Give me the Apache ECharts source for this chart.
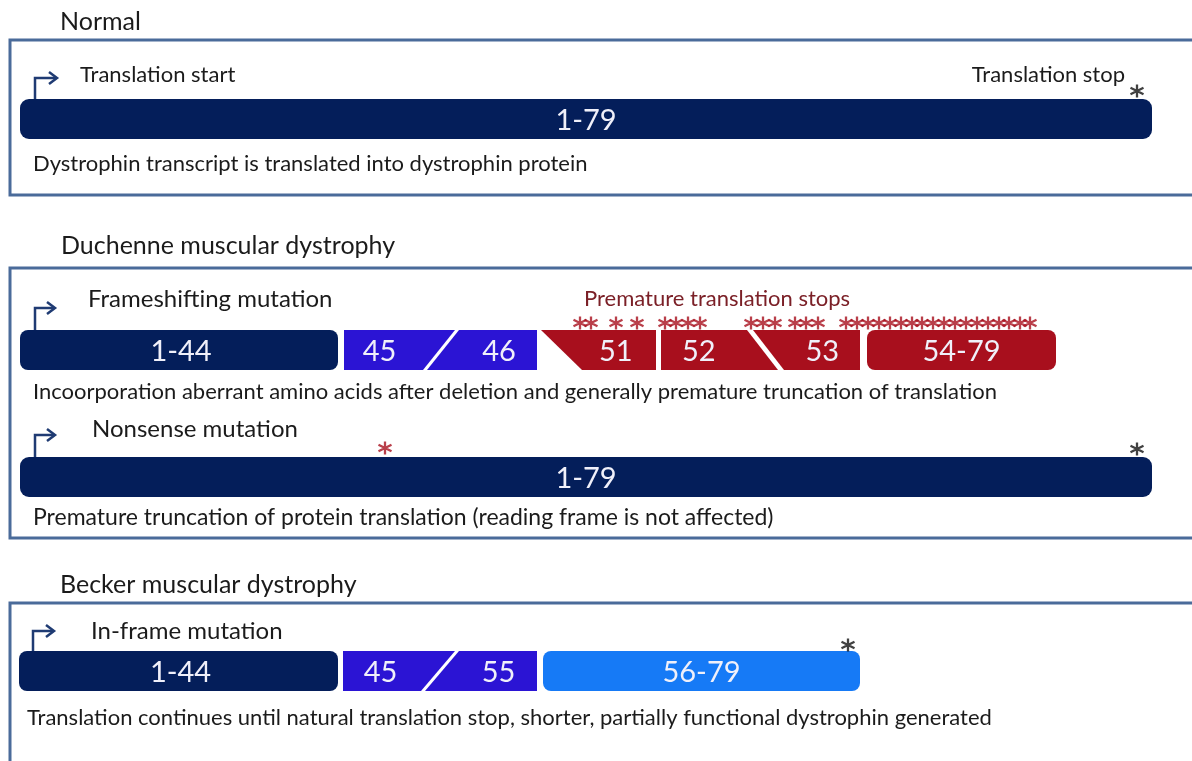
<!DOCTYPE html>
<html><head><meta charset="utf-8">
<script src="https://cdn.jsdelivr.net/npm/echarts@6/dist/echarts.min.js"></script>
<style>html,body{margin:0;padding:0;background:#fff}#c{width:1192px;height:761px}</style>
</head><body><div id="c"></div>
<script>
const FONT = 'Lato, "Noto Sans", sans-serif';
const COLORS = { navy:'#041e5a', purple:'#2b14d4', red:'#a80f1d', sky:'#167af6', frame:'#4a6b9a', text:'#1b1b1b', arrow:'#1f3b73', darkred:'#7b2027', star:'#a80f1d', black:'#111111' };

// Panel frames [x0, y0, x1, y1]
const frames = [[10,40,1215,195],[10,268,1215,538],[10,603,1215,790]];

// Transcript rows (top of bar) and bar height
const rowTop = [99, 330, 457, 651];
const BAR_H = 40;

// Exon segment labels
const segLabels = ["1-79","1-44","45","46","51","52","53","54-79","1-79","1-44","45","55","56-79"];
// Segment geometry: [row, xTopLeft, xBottomLeft, xTopRight, xBottomRight, colorKey, radius, labelDx]
const segGeom = [
  [0, 20, 20, 1152, 1152, 'navy', 9, 0],
  [1, 20, 20, 338, 338, 'navy', 8, 2],
  [1, 344, 344, 455, 423, 'purple', 2, -12],
  [1, 459, 427, 537, 537, 'purple', 2, 9],
  [1, 541, 582, 656, 656, 'red', 0, 7],
  [1, 661, 661, 747, 778, 'red', 0, -13],
  [1, 753, 784, 860, 860, 'red', 0, 8],
  [1, 867, 867, 1056, 1056, 'red', 8, 0],
  [2, 20, 20, 1152, 1152, 'navy', 9, 0],
  [3, 19, 19, 338, 338, 'navy', 8, 2],
  [3, 343, 343, 455, 421, 'purple', 2, -10],
  [3, 459, 425, 537, 537, 'purple', 2, 9],
  [3, 543, 543, 860, 860, 'sky', 8, 0]
];

// Translation-start arrows: [x, yBottom, yTop, xTip]
const arrows = [[35, 99, 78, 57],[35, 330, 308, 55],[35, 457, 435, 55],[33, 651, 631, 54]];

// Stop codons (asterisks)
const stopX = [580, 591, 616, 637, 665, 676, 688, 700, 751, 763, 775, 795, 806, 818, 846, 857, 868, 879, 890, 901, 912, 922, 933, 944, 955, 966, 977, 988, 999, 1009, 1020, 1030, 385, 1137, 1137, 848];
const stopY = [323,323,323,323,323,323,323,323,323,323,323,323,323,323,323,323,323,323,323,323,323,323,323,323,323,323,323,323,323,323,323,323, 448, 91, 449, 645];
const stopColor = ['star','star','star','star','star','star','star','star','star','star','star','star','star','star','star','star','star','star','star','star','star','star','star','star','star','star','star','star','star','star','star','star','star','black','black','black'];

// Text annotations
const texts = ["Normal","Translation start","Translation stop","Dystrophin transcript is translated into dystrophin protein",
  "Duchenne muscular dystrophy","Frameshifting mutation","Premature translation stops",
  "Incoorporation aberrant amino acids after deletion and generally premature truncation of translation",
  "Nonsense mutation","Premature truncation of protein translation (reading frame is not affected)",
  "Becker muscular dystrophy","In-frame mutation",
  "Translation continues until natural translation stop, shorter, partially functional dystrophin generated"];
const textX = [60, 80, 1125, 33, 61, 88, 584, 33, 92, 33, 60, 91, 27];
const textY = [22, 75, 75, 164, 246, 299, 299, 392, 429, 518, 585, 631, 718];
const textSize = [25, 22, 22, 22, 25, 24, 22, 22, 24, 23, 25, 24, 22];
const textColor = ['text','text','text','text','text','text','darkred','text','text','text','text','text','text'];
const textAlign = ['left','left','right','left','left','left','left','left','left','left','left','left','left'];

const chart = echarts.init(document.getElementById('c'), null, {renderer:'canvas'});
const option = {
  animation: false,
  backgroundColor: '#ffffff',
  grid: {left:0, right:0, top:0, bottom:0},
  xAxis: {type:'value', min:0, max:1192, show:false},
  yAxis: {type:'value', min:0, max:761, inverse:true, show:false},
  series: [
    { type:'custom', clip:false, silent:true,
      data: frames.map(f => [f[0], f[1]]),
      renderItem(params, api){
        const f = frames[params.dataIndex];
        const a = api.coord([f[0], f[1]]), b = api.coord([f[2], f[3]]);
        return {type:'rect', shape:{x:a[0], y:a[1], width:b[0]-a[0], height:b[1]-a[1]},
          style:{fill:'none', stroke:COLORS.frame, lineWidth:3}};
      }
    },
    { type:'custom', clip:false, silent:true,
      data: segGeom.map(s => [s[1], rowTop[s[0]]]),
      renderItem(params, api){
        const s = segGeom[params.dataIndex];
        const top = rowTop[s[0]], bot = top + BAR_H;
        const tl = api.coord([s[1], top]), bl = api.coord([s[2], bot]), tr = api.coord([s[3], top]), br = api.coord([s[4], bot]);
        const fill = COLORS[s[5]];
        let shape;
        if (s[1] === s[2] && s[3] === s[4]) {
          shape = {type:'rect', shape:{x:tl[0], y:tl[1], width:tr[0]-tl[0], height:bl[1]-tl[1], r:s[6]}, style:{fill}};
        } else {
          shape = {type:'polygon', shape:{points:[tl, tr, br, bl]}, style:{fill}};
        }
        const label = segLabels[params.dataIndex];
        const cx = (tl[0]+tr[0]+bl[0]+br[0])/4 + s[7];
        const cy = (tl[1]+bl[1])/2 + 2;
        return {type:'group', children:[shape, {type:'text', x:cx, y:cy,
          style:{text:label, fill:'#f0f0fa', font:`29px ${FONT}`, align:'center', verticalAlign:'middle'}}]};
      }
    },
    { type:'custom', clip:false, silent:true,
      data: arrows.map(a => [a[0], a[1]]),
      renderItem(params, api){
        const a = arrows[params.dataIndex];
        const p0 = api.coord([a[0], a[1]]), p1 = api.coord([a[0], a[2]]), p2 = api.coord([a[3], a[2]]);
        const st = {stroke:COLORS.arrow, lineWidth:2.5, fill:'none'};
        return {type:'group', children:[
          {type:'polyline', shape:{points:[p0, p1, [p2[0]-1, p2[1]]]}, style:st},
          {type:'polyline', shape:{points:[[p2[0]-8, p2[1]-6], p2, [p2[0]-8, p2[1]+6]]}, style:st}
        ]};
      }
    },
    { type:'scatter', silent:true,
      symbol:'path://M10,0 L10,20 M1.34,5 L18.66,15 M1.34,15 L18.66,5',
      symbolSize: 13,
      data: stopX.map((x,i) => ({value:[x, stopY[i]], itemStyle:{color:COLORS[stopColor[i]], borderColor:COLORS[stopColor[i]], borderWidth:2.3}}))
    },
    { type:'custom', clip:false, silent:true,
      data: texts.map((t,i) => [textX[i], textY[i]]),
      renderItem(params, api){
        const i = params.dataIndex;
        const p = api.coord([textX[i], textY[i]]);
        return {type:'text', x:p[0], y:p[1], style:{text:texts[i], fill:COLORS[textColor[i]],
          font:`${textSize[i]}px ${FONT}`, align:textAlign[i], verticalAlign:'middle'}};
      }
    }
  ]
};
chart.setOption(option);
</script></body></html>
